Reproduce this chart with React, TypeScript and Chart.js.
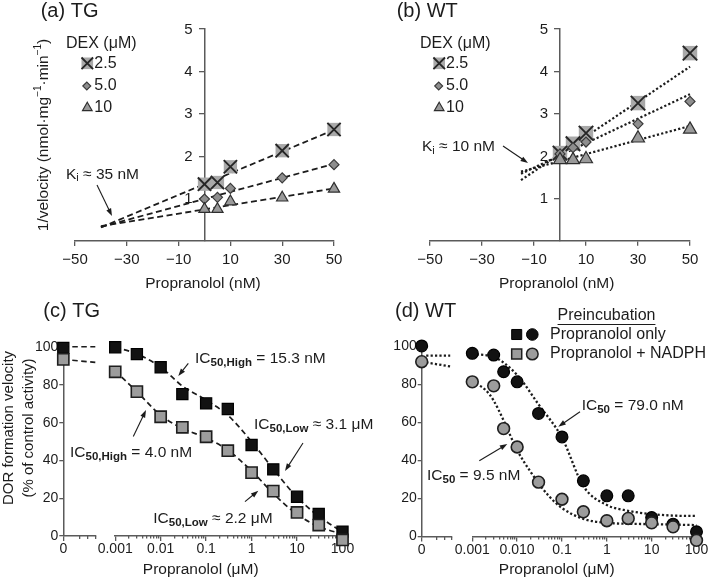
import React, { useEffect, useRef } from 'react';
import { Chart, registerables } from 'chart.js';
import { drawPoint } from 'chart.js/helpers';

Chart.register(...registerables);

// ---------------- data ----------------
const propranololNM = [0, 5, 10, 30, 50];
const topXTicks = [-50, -30, -10, 10, 30, 50];
const topYTicks = [1, 2, 3, 4, 5];
const dexLegend = ['2.5', '5.0', '10'];

// (a) TG : 1/velocity
const tgDex25 = [1.34, 1.38, 1.75, 2.13, 2.63];
const tgDex50 = [0.99, 1.03, 1.24, 1.49, 1.8];
const tgDex10 = [0.75, 0.75, 0.93, 1.02, 1.23];
const tgFitX = [-40, 50];
const tgFit25 = [0.32, 2.62];
const tgFit50 = [0.33, 1.82];
const tgFit10 = [0.35, 1.24];

// (b) WT : 1/velocity
const wtDex25 = [2.07, 2.29, 2.54, 3.25, 4.43];
const wtDex50 = [2.05, 2.2, 2.33, 2.76, 3.29];
const wtDex10 = [1.91, 1.91, 1.93, 2.42, 2.63];
const wtFitX = [-15, 50];
const wtFit25 = [1.43, 4.11];
const wtFit50 = [1.58, 3.46];
const wtFit10 = [1.63, 2.71];

// (c)/(d) axes
const logTicks = [0.001, 0.01, 0.1, 1, 10, 100];
const tgLogLabels = ['0.001', '0.01', '0.1', '1', '10', '100'];
const wtLogLabels = ['0.001', '0.010', '0.1', '1', '10', '100'];
const minorMultipliers = [2, 3, 4, 5, 6, 7, 8, 9];
const pctTicks = [0, 20, 40, 60, 80, 100];
const zeroTicks = [0];
const zeroLabels = ['0'];
const zeroMinorTicks = [2, 3, 4];

// (c) TG : % of control activity
const tgUM = [0.001, 0.003, 0.01, 0.03, 0.1, 0.3, 1, 3, 10, 30, 100];
const tgOnly = [100, 96.4, 89.4, 75.2, 70.3, 67.3, 48.2, 35.3, 20.8, 11.7, 2.3];
const tgNadph = [87.0, 76.5, 63.2, 57.6, 52.6, 45.2, 33.6, 23.8, 12.5, 5.8, -2.1];
const tgOnlyFit = [100, 96.5, 89.5, 79.5, 72, 64, 50, 35.5, 20.5, 10.5, 2];
const tgNadphFit = [87.5, 76.5, 64, 57, 52, 45.5, 34.5, 22.5, 11.5, 5, 1];
const tgZeroOnly = 99.7;
const tgZeroNadph = 93.6;
const tgLinkX = [0, 4];
const tgLinkOnly = [100.3, 100.3];
const tgLinkNadph = [93.6, 92.0];

// (d) WT : % of control activity
const wtUM = [0.001, 0.003, 0.005, 0.01, 0.03, 0.1, 0.3, 1, 3, 10, 30, 100];
const wtOnly = [96.4, 95.5, 86.7, 81.4, 64.8, 52.4, 29.3, 21.4, 21.4, 10.0, 6.5, 2.5];
const wtNadph = [81.4, 79.3, 56.8, 47.1, 28.6, 19.6, 13.0, 8.3, 9.5, 7.2, 5.1, -2.0];
const wtOnlyFitX = [0.001, 0.003, 0.01, 0.03, 0.1, 0.3, 1, 3, 10, 30, 100];
const wtOnlyFit = [96, 94.5, 85, 69.5, 52, 26.5, 16.6, 13.5, 11.8, 11, 10.8];
const wtNadphFitX = [0.001, 0.002, 0.003, 0.005, 0.01, 0.02, 0.05, 0.1, 0.3, 1, 10, 100];
const wtNadphFit = [81.5, 77, 71.5, 61, 45.5, 34, 21.5, 15, 9.3, 7.2, 6.5, 6];
const wtZeroOnly = 100.3;
const wtZeroNadph = 92.0;
const wtLinkX = [0.6, 3.8];
const wtLinkOnly = [95.2, 95.2];
const wtLinkNadph = [91.6, 89.5];

// ---------------- styling ----------------
const W = 709;
const H = 580;
const FONT = "'Liberation Sans', Arial, Helvetica, sans-serif";
const INK = '#1c1c1c';
const AXIS = '#5a5a5a';
const SQ_FILL = '#a9a9a9';
const X_EDGE = '#262626';
const DIA_FILL = '#8e8e8e';
const DIA_EDGE = '#3a3a3a';
const TRI_FILL = '#9a9a9a';
const TRI_EDGE = '#2e2e2e';
const BLACK = '#121212';
const GRAY = '#9c9c9c';
const GRAY_EDGE = '#1e1e1e';

Chart.defaults.font.family = FONT;
Chart.defaults.color = INK;

const xy = (xs: number[], ys: number[]) => xs.map((x, i) => ({ x, y: ys[i] }));
const minorOf = (majors: number[]) =>
  majors.slice(0, -1).flatMap((m) => minorMultipliers.map((k) => m * k));

function pts(data: any[], style: string, radius: number, fill: string, stroke: string, bw: number, order: number) {
  return {
    data, showLine: false, pointStyle: style, pointRadius: radius, pointHoverRadius: radius,
    pointBackgroundColor: fill, pointBorderColor: stroke, pointBorderWidth: bw,
    backgroundColor: fill, borderColor: stroke, clip: false, order, xAxisID: 'x', yAxisID: 'y',
  };
}
function curve(data: any[], dash: number[], width: number, smooth = false) {
  return {
    data, showLine: true, pointRadius: 0, pointHoverRadius: 0, borderColor: INK, borderWidth: width,
    borderDash: dash, borderCapStyle: 'butt', cubicInterpolationMode: smooth ? 'monotone' : 'default',
    tension: 0, fill: false, clip: false, order: 10, xAxisID: 'x', yAxisID: 'y',
  };
}

const tickFont = (size: number) => ({ family: FONT, size });
const grid = (len: number) => ({
  display: true, drawOnChartArea: false, drawTicks: true, tickLength: len, color: AXIS, lineWidth: 1.3,
});
const border = { display: true, color: AXIS, width: 1.5 };
const fixTicks = (vals: number[]) => (s: any) => {
  s.ticks = vals.map((value) => ({ value }));
};
const minus = (v: number) => (v < 0 ? '\u2212' + Math.abs(v) : String(v));

function baseOptions(area: { l: number; t: number; r: number }, scales: any) {
  return {
    responsive: false, maintainAspectRatio: false, animation: false, devicePixelRatio: 1, events: [],
    layout: { padding: { left: area.l, top: area.t, right: W - area.r, bottom: 0 } },
    plugins: { legend: { display: false }, tooltip: { enabled: false }, title: { display: false } },
    scales,
  };
}

// ---------------- text helpers ----------------
type Part = { t: string; s: number; b?: boolean; dy?: number };
const fnt = (s: number, b = false) => `${b ? 'bold ' : ''}${s}px ${FONT}`;
function richWidth(ctx: CanvasRenderingContext2D, parts: Part[]) {
  let w = 0;
  for (const p of parts) { ctx.font = fnt(p.s, p.b); w += ctx.measureText(p.t).width; }
  return w;
}
function rich(ctx: CanvasRenderingContext2D, parts: Part[], x: number, y: number, align: 'left' | 'center' | 'right' = 'left') {
  const w = richWidth(ctx, parts);
  let cx = align === 'center' ? x - w / 2 : align === 'right' ? x - w : x;
  ctx.textBaseline = 'middle';
  ctx.textAlign = 'left';
  ctx.fillStyle = INK;
  for (const p of parts) {
    ctx.font = fnt(p.s, p.b);
    ctx.fillText(p.t, cx, y + (p.dy || 0));
    cx += ctx.measureText(p.t).width;
  }
}
function text(ctx: CanvasRenderingContext2D, s: string, x: number, y: number, size: number, align: 'left' | 'center' | 'right' = 'left') {
  rich(ctx, [{ t: s, s: size }], x, y, align);
}
function vtext(ctx: CanvasRenderingContext2D, parts: Part[], cx: number, cy: number) {
  ctx.save();
  ctx.translate(cx, cy);
  ctx.rotate(-Math.PI / 2);
  rich(ctx, parts, 0, 0, 'center');
  ctx.restore();
}
function arrow(ctx: CanvasRenderingContext2D, x1: number, y1: number, x2: number, y2: number) {
  const a = Math.atan2(y2 - y1, x2 - x1);
  const L = 7.5, Wd = 2.6;
  const c = Math.cos(a), s = Math.sin(a);
  ctx.strokeStyle = INK;
  ctx.fillStyle = INK;
  ctx.lineWidth = 1.1;
  ctx.setLineDash([]);
  ctx.beginPath();
  ctx.moveTo(x1, y1);
  ctx.lineTo(x2 - c * L * 0.7, y2 - s * L * 0.7);
  ctx.stroke();
  ctx.beginPath();
  ctx.moveTo(x2, y2);
  ctx.lineTo(x2 - c * L + s * Wd, y2 - s * L - c * Wd);
  ctx.lineTo(x2 - c * L - s * Wd, y2 - s * L + c * Wd);
  ctx.closePath();
  ctx.fill();
}
function mark(ctx: CanvasRenderingContext2D, style: string, r: number, fill: string, stroke: string, bw: number, x: number, y: number) {
  ctx.fillStyle = fill;
  ctx.strokeStyle = stroke;
  ctx.lineWidth = bw;
  ctx.setLineDash([]);
  drawPoint(ctx, { pointStyle: style as any, radius: r, rotation: 0, borderWidth: bw }, x, y);
}
const annot = (draw: (ctx: CanvasRenderingContext2D, chart: any) => void) => ({
  id: 'annot',
  afterDraw: (chart: any) => {
    const ctx = chart.ctx as CanvasRenderingContext2D;
    ctx.save();
    draw(ctx, chart);
    ctx.restore();
  },
});
const IC = (sub: string, rest: string): Part[] => [
  { t: 'IC', s: 15.5 },
  { t: sub, s: 11.5, b: true, dy: 4.2 },
  { t: rest, s: 15.5 },
];
const KI = (rest: string): Part[] => [
  { t: 'K', s: 15.5 },
  { t: 'i', s: 11, dy: 4 },
  { t: rest, s: 15.5 },
];

function dexLegendDraw(ctx: CanvasRenderingContext2D, left: number, mx: number, tx: number) {
  text(ctx, 'DEX (\u03bcM)', left, 44, 16);
  const rows = [63.3, 86, 107.3];
  mark(ctx, 'rect', 8.2, SQ_FILL, SQ_FILL, 0, mx, rows[0]);
  mark(ctx, 'crossRot', 8.2, 'rgba(0,0,0,0)', X_EDGE, 1.8, mx, rows[0]);
  mark(ctx, 'rectRot', 4, DIA_FILL, DIA_EDGE, 1.1, mx - 0.5, rows[1]);
  mark(ctx, 'triangle', 5.6, TRI_FILL, TRI_EDGE, 1.1, mx, rows[2] + 0.5);
  dexLegend.forEach((s, i) => text(ctx, s, tx, rows[i], 16));
}

// y tick labels of the centred (x = 0) axis, placed from the library's scales
function centredYLabels(ctx: CanvasRenderingContext2D, chart: any) {
  const xs = chart.scales.x;
  const ys = chart.scales.y;
  const x0 = xs.getPixelForValue(0) - 12;
  ys.ticks.forEach((t: any) => {
    text(ctx, String(t.value), x0, ys.getPixelForValue(t.value) + 0.5, 15, 'right');
  });
}

// ---------------- top panels ----------------
function topConfig(
  area: { l: number; t: number; r: number; b: number },
  d25: number[], d50: number[], d10: number[],
  fitX: number[], f25: number[], f50: number[], f10: number[],
  dash: number[], lw: number, sz: { sq: number; dia: number; tri: number },
  draw: (ctx: CanvasRenderingContext2D) => void,
) {
  return {
    type: 'scatter',
    data: {
      datasets: [
        pts(xy(propranololNM, d10), 'triangle', sz.tri, TRI_FILL, TRI_EDGE, 1.2, 0),
        pts(xy(propranololNM, d50), 'rectRot', sz.dia, DIA_FILL, DIA_EDGE, 1.2, 1),
        pts(xy(propranololNM, d25), 'crossRot', sz.sq, 'rgba(0,0,0,0)', X_EDGE, 1.9, 2),
        pts(xy(propranololNM, d25), 'rect', sz.sq, SQ_FILL, SQ_FILL, 0, 3),
        curve(xy(fitX, f25), dash, lw),
        curve(xy(fitX, f50), dash, lw),
        curve(xy(fitX, f10), dash, lw),
      ],
    },
    options: baseOptions(area, {
      x: {
        type: 'linear', position: 'bottom', min: -50, max: 50,
        afterBuildTicks: fixTicks(topXTicks),
        afterFit: (s: any) => { s.height = H - area.b; },
        ticks: { font: tickFont(15), color: INK, padding: 5, autoSkip: false, maxRotation: 0, callback: (v: number) => minus(v) },
        grid: grid(5), border,
      },
      y: {
        type: 'linear', position: { x: 0 }, min: 0, max: 5,
        afterBuildTicks: fixTicks(topYTicks),
        ticks: { display: false },
        grid: grid(5), border,
      },
    }),
    plugins: [annot((ctx, chart) => { centredYLabels(ctx, chart); draw(ctx); })],
  };
}

const cfgA = () =>
  topConfig({ l: 75, t: 29, r: 334, b: 241 }, tgDex25, tgDex50, tgDex10, tgFitX, tgFit25, tgFit50, tgFit10,
    [6, 3.5], 1.8, { sq: 9.4, dia: 5, tri: 6.5 }, (ctx) => {
      text(ctx, '(a) TG', 40.7, 11, 20);
      vtext(ctx, [
        { t: '1/velocity (nmol\u00b7mg', s: 15.5 }, { t: '\u22121', s: 10, dy: -5 },
        { t: '\u00b7min', s: 15.5 }, { t: '\u22121', s: 10, dy: -5 }, { t: ')', s: 15.5 },
      ], 43.5, 135);
      text(ctx, 'Propranolol (nM)', 203, 284, 15.5, 'center');
      dexLegendDraw(ctx, 66, 87.3, 94.3);
      rich(ctx, KI(' \u2248 35 nM'), 66, 174.3);
      arrow(ctx, 97, 185, 112, 216);
    });

const cfgB = () =>
  topConfig({ l: 430, t: 29, r: 690, b: 240.7 }, wtDex25, wtDex50, wtDex10, wtFitX, wtFit25, wtFit50, wtFit10,
    [2.2, 2.2], 2.2, { sq: 10.2, dia: 5, tri: 7.5 }, (ctx) => {
      text(ctx, '(b) WT', 396.7, 11, 20);
      text(ctx, 'Propranolol (nM)', 556.7, 284, 15.5, 'center');
      dexLegendDraw(ctx, 420, 439.2, 446);
      rich(ctx, KI(' \u2248 10 nM'), 422, 147);
      arrow(ctx, 503, 146, 528, 163);
    });

// ---------------- bottom panels ----------------
function leftConfig(area: { l: number; r: number; t: number; b: number }, zeroOnly: number, zeroNadph: number,
  linkX: number[], linkOnly: number[], linkNadph: number[], dash: number[], lw: number, circle: boolean) {
  const style = circle ? 'circle' : 'rect';
  const r = circle ? 5.9 : 7.9;
  return {
    type: 'scatter',
    data: {
      datasets: [
        pts([{ x: 0, y: zeroNadph }], style, r, GRAY, GRAY_EDGE, 1.6, 0),
        pts([{ x: 0, y: zeroOnly }], style, r, BLACK, '#000', 1.2, 1),
        curve(xy(linkX, linkOnly), dash, lw),
        curve(xy(linkX, linkNadph), dash, lw),
      ],
    },
    options: baseOptions({ l: 0, t: area.t, r: area.r }, {
      x: {
        type: 'linear', position: 'bottom', min: 0, max: 4,
        afterBuildTicks: fixTicks(zeroTicks),
        afterFit: (s: any) => { s.height = H - area.b; },
        ticks: { font: tickFont(14), color: INK, padding: 0, autoSkip: false, maxRotation: 0, callback: (_v: number, i: number) => zeroLabels[i] },
        grid: grid(5), border,
      },
      xm: {
        axis: 'x', type: 'linear', position: { y: 0 }, min: 0, max: 4,
        afterBuildTicks: fixTicks(zeroMinorTicks),
        ticks: { display: false },
        grid: grid(3), border: { display: false },
      },
      y: {
        type: 'linear', position: 'left', min: 0, max: 100,
        afterBuildTicks: fixTicks(pctTicks),
        afterFit: (s: any) => { s.width = area.l; },
        ticks: { font: tickFont(14), color: INK, padding: 1, autoSkip: false },
        grid: grid(4), border,
      },
    }),
  };
}

function rightConfig(area: { l: number; r: number; t: number; b: number }, xs: number[], only: number[], nadph: number[],
  fitOX: number[], fitO: number[], fitNX: number[], fitN: number[], labels: string[], dash: number[], lw: number,
  circle: boolean, draw: (ctx: CanvasRenderingContext2D) => void) {
  const style = circle ? 'circle' : 'rect';
  const r = circle ? 5.9 : 7.9;
  return {
    type: 'scatter',
    data: {
      datasets: [
        pts(xy(xs, nadph), style, r, GRAY, GRAY_EDGE, 1.6, 0),
        pts(xy(xs, only), style, r, BLACK, '#000', 1.2, 1),
        curve(xy(fitOX, fitO), dash, lw, true),
        curve(xy(fitNX, fitN), dash, lw, true),
      ],
    },
    options: baseOptions({ l: area.l, t: area.t, r: area.r }, {
      x: {
        type: 'logarithmic', position: 'bottom', min: 0.001, max: 100,
        afterBuildTicks: fixTicks(logTicks),
        afterFit: (s: any) => { s.height = H - area.b; },
        ticks: { font: tickFont(14), color: INK, padding: 0, autoSkip: false, maxRotation: 0, callback: (_v: number, i: number) => labels[i] },
        grid: grid(5), border,
      },
      xm: {
        axis: 'x', type: 'logarithmic', position: { y: 0 }, min: 0.001, max: 100,
        afterBuildTicks: fixTicks(minorOf(logTicks)),
        ticks: { display: false },
        grid: grid(2.6), border: { display: false },
      },
      y: { type: 'linear', display: false, min: 0, max: 100 },
    }),
    plugins: [annot((ctx) => draw(ctx))],
  };
}

const cfgCL = () =>
  leftConfig({ l: 63.3, r: 95.3, t: 347.3, b: 536 }, tgZeroOnly, tgZeroNadph, tgLinkX, tgLinkOnly, tgLinkNadph, [5.5, 3.5], 1.7, false);
const cfgCR = () =>
  rightConfig({ l: 115.2, r: 342.5, t: 347.3, b: 536 }, tgUM, tgOnly, tgNadph, tgUM, tgOnlyFit, tgUM, tgNadphFit,
    tgLogLabels, [5.5, 3.5], 1.7, false, (ctx) => {
      text(ctx, '(c) TG', 43.3, 311.7, 20);
      vtext(ctx, [{ t: 'DOR formation velocity', s: 15 }], 8.5, 428);
      vtext(ctx, [{ t: '(% of control activity)', s: 15 }], 28.5, 428);
      text(ctx, 'Propranolol (\u03bcM)', 200.7, 569.3, 15.5, 'center');
      rich(ctx, IC('50,High', ' = 15.3 nM'), 195, 358.3);
      arrow(ctx, 188.3, 363.3, 178.3, 376);
      rich(ctx, IC('50,High', ' = 4.0 nM'), 70, 452.7);
      arrow(ctx, 133.3, 436.5, 146, 410);
      rich(ctx, IC('50,Low', ' \u2248 3.1 \u03bcM'), 254, 425);
      arrow(ctx, 303, 443, 285, 471);
      rich(ctx, IC('50,Low', ' \u2248 2.2 \u03bcM'), 153.3, 518.3);
      arrow(ctx, 245, 501.7, 258.3, 490.7);
    });

const cfgDL = () =>
  leftConfig({ l: 421.7, r: 451.7, t: 346.5, b: 536.5 }, wtZeroOnly, wtZeroNadph, wtLinkX, wtLinkOnly, wtLinkNadph, [2.2, 2.2], 2.3, true);
const cfgDR = () =>
  rightConfig({ l: 472.3, r: 696.5, t: 346.5, b: 536.5 }, wtUM, wtOnly, wtNadph, wtOnlyFitX, wtOnlyFit, wtNadphFitX, wtNadphFit,
    wtLogLabels, [2.2, 2.2], 2.3, true, (ctx) => {
      text(ctx, '(d) WT', 395, 311, 20);
      text(ctx, 'Propranolol (\u03bcM)', 556.7, 569.3, 15.5, 'center');
      // legend
      text(ctx, 'Preincubation', 606.5, 315.5, 16, 'center');
      ctx.font = fnt(16);
      const uw = ctx.measureText('Preincubation').width;
      ctx.strokeStyle = INK;
      ctx.lineWidth = 1;
      ctx.beginPath();
      ctx.moveTo(606.5 - uw / 2, 324.5);
      ctx.lineTo(606.5 + uw / 2, 324.5);
      ctx.stroke();
      mark(ctx, 'rect', 7.1, BLACK, '#000', 1, 516.7, 334.5);
      mark(ctx, 'circle', 5.8, BLACK, '#000', 1, 532.3, 334.5);
      text(ctx, 'Propranolol only', 550, 334.5, 16);
      mark(ctx, 'rect', 7.1, GRAY, GRAY_EDGE, 1.5, 516.7, 354);
      mark(ctx, 'circle', 5.8, GRAY, GRAY_EDGE, 1.5, 532.3, 354);
      text(ctx, 'Propranolol + NADPH', 550, 354, 16);
      // IC50 annotations
      rich(ctx, IC('50', ' = 79.0 nM'), 581.7, 406);
      arrow(ctx, 580, 411.7, 558.3, 426.7);
      rich(ctx, IC('50', ' = 9.5 nM'), 427, 476);
      arrow(ctx, 479.3, 460.7, 507.3, 444);
    });

export default function App() {
  const refs = useRef<(HTMLCanvasElement | null)[]>([]);
  useEffect(() => {
    const configs = [cfgA(), cfgB(), cfgCL(), cfgCR(), cfgDL(), cfgDR()];
    const charts = configs.map((cfg, i) => new Chart(refs.current[i] as HTMLCanvasElement, cfg as any));
    return () => charts.forEach((c) => c.destroy());
  }, []);
  return (
    <div style={{ position: 'absolute', left: 0, top: 0, width: W, height: H, background: '#fff', overflow: 'hidden' }}>
      {[0, 1, 2, 3, 4, 5].map((i) => (
        <canvas
          key={i}
          ref={(el) => { refs.current[i] = el; }}
          width={W}
          height={H}
          style={{ position: 'absolute', left: 0, top: 0, width: W, height: H }}
        />
      ))}
    </div>
  );
}
